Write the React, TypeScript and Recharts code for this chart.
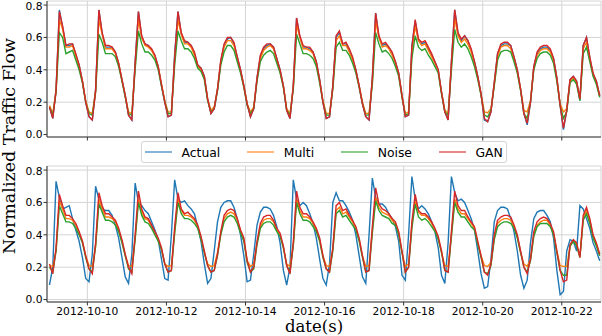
import React from 'react';
import { LineChart, Line, XAxis, YAxis, CartesianGrid } from 'recharts';

// hours since 2012-10-09 00:00, one sample every 2 h (01:00, 03:00, ...)
const HOURS = Array.from({ length: 168 }, (_, i) => 2 * i + 1);

const TICK_HOURS = [24, 72, 120, 168, 216, 264, 312];
const TICK_LABELS = ['2012-10-10', '2012-10-12', '2012-10-14', '2012-10-16', '2012-10-18', '2012-10-20', '2012-10-22'];
const Y_TICKS = [0, 0.2, 0.4, 0.6, 0.8];

// upper panel, one row per day (Oct 9 .. Oct 22)
const TOP_ACTUAL = [
  [0.17, 0.10, 0.28, 0.77, 0.66, 0.55, 0.55, 0.56, 0.49, 0.43, 0.33, 0.20],
  [0.11, 0.09, 0.28, 0.77, 0.62, 0.54, 0.54, 0.54, 0.51, 0.44, 0.34, 0.24],
  [0.12, 0.09, 0.45, 0.76, 0.60, 0.56, 0.55, 0.52, 0.49, 0.42, 0.30, 0.20],
  [0.11, 0.12, 0.50, 0.76, 0.62, 0.57, 0.57, 0.55, 0.50, 0.43, 0.41, 0.36],
  [0.22, 0.13, 0.16, 0.28, 0.45, 0.55, 0.59, 0.60, 0.56, 0.48, 0.40, 0.30],
  [0.19, 0.11, 0.16, 0.35, 0.48, 0.53, 0.55, 0.56, 0.54, 0.47, 0.40, 0.30],
  [0.15, 0.10, 0.30, 0.72, 0.60, 0.54, 0.54, 0.53, 0.51, 0.45, 0.34, 0.20],
  [0.10, 0.11, 0.30, 0.60, 0.63, 0.56, 0.56, 0.52, 0.47, 0.40, 0.30, 0.19],
  [0.11, 0.09, 0.35, 0.75, 0.60, 0.55, 0.56, 0.54, 0.50, 0.45, 0.38, 0.24],
  [0.11, 0.12, 0.55, 0.70, 0.58, 0.56, 0.57, 0.53, 0.49, 0.45, 0.40, 0.26],
  [0.14, 0.09, 0.45, 0.77, 0.62, 0.58, 0.61, 0.58, 0.52, 0.45, 0.36, 0.25],
  [0.09, 0.08, 0.14, 0.32, 0.50, 0.55, 0.56, 0.56, 0.55, 0.48, 0.40, 0.28],
  [0.13, 0.06, 0.20, 0.42, 0.50, 0.53, 0.54, 0.54, 0.52, 0.47, 0.35, 0.18],
  [0.03, 0.15, 0.34, 0.36, 0.33, 0.21, 0.55, 0.60, 0.47, 0.37, 0.33, 0.24],
].flat();

const TOP_MULTI = [
  [0.18, 0.13, 0.27, 0.71, 0.65, 0.54, 0.54, 0.55, 0.48, 0.42, 0.33, 0.21],
  [0.14, 0.13, 0.27, 0.71, 0.62, 0.53, 0.53, 0.53, 0.50, 0.44, 0.34, 0.24],
  [0.14, 0.13, 0.42, 0.71, 0.60, 0.55, 0.54, 0.52, 0.48, 0.42, 0.31, 0.21],
  [0.14, 0.14, 0.46, 0.71, 0.62, 0.56, 0.56, 0.54, 0.49, 0.42, 0.40, 0.35],
  [0.22, 0.15, 0.17, 0.28, 0.45, 0.54, 0.58, 0.58, 0.55, 0.47, 0.39, 0.30],
  [0.19, 0.14, 0.17, 0.34, 0.47, 0.52, 0.54, 0.55, 0.53, 0.46, 0.39, 0.30],
  [0.16, 0.13, 0.29, 0.68, 0.60, 0.53, 0.53, 0.52, 0.50, 0.44, 0.33, 0.21],
  [0.13, 0.13, 0.29, 0.58, 0.61, 0.55, 0.55, 0.51, 0.46, 0.39, 0.30, 0.20],
  [0.13, 0.13, 0.33, 0.70, 0.60, 0.54, 0.55, 0.53, 0.49, 0.44, 0.37, 0.24],
  [0.13, 0.14, 0.51, 0.67, 0.58, 0.55, 0.56, 0.52, 0.48, 0.44, 0.39, 0.26],
  [0.15, 0.13, 0.43, 0.72, 0.61, 0.57, 0.59, 0.56, 0.51, 0.44, 0.35, 0.25],
  [0.14, 0.135, 0.16, 0.31, 0.48, 0.54, 0.55, 0.55, 0.53, 0.47, 0.39, 0.28],
  [0.15, 0.14, 0.21, 0.41, 0.49, 0.52, 0.53, 0.53, 0.51, 0.46, 0.34, 0.19],
  [0.14, 0.16, 0.33, 0.35, 0.32, 0.22, 0.53, 0.57, 0.46, 0.37, 0.32, 0.24],
].flat();

const TOP_NOISE = [
  [0.17, 0.12, 0.26, 0.63, 0.60, 0.50, 0.51, 0.52, 0.46, 0.40, 0.32, 0.20],
  [0.13, 0.12, 0.26, 0.62, 0.57, 0.50, 0.50, 0.50, 0.48, 0.42, 0.33, 0.23],
  [0.13, 0.12, 0.40, 0.64, 0.56, 0.51, 0.51, 0.49, 0.46, 0.40, 0.30, 0.20],
  [0.13, 0.13, 0.43, 0.64, 0.58, 0.53, 0.53, 0.51, 0.47, 0.41, 0.39, 0.34],
  [0.21, 0.14, 0.16, 0.27, 0.43, 0.51, 0.55, 0.55, 0.52, 0.45, 0.38, 0.29],
  [0.18, 0.13, 0.16, 0.33, 0.45, 0.49, 0.51, 0.52, 0.50, 0.44, 0.38, 0.29],
  [0.15, 0.12, 0.28, 0.62, 0.56, 0.50, 0.50, 0.49, 0.47, 0.42, 0.32, 0.20],
  [0.12, 0.12, 0.28, 0.54, 0.57, 0.52, 0.52, 0.49, 0.44, 0.38, 0.29, 0.19],
  [0.12, 0.12, 0.31, 0.63, 0.56, 0.51, 0.52, 0.50, 0.47, 0.42, 0.36, 0.23],
  [0.12, 0.13, 0.47, 0.61, 0.54, 0.52, 0.53, 0.49, 0.46, 0.42, 0.38, 0.25],
  [0.14, 0.12, 0.40, 0.65, 0.57, 0.54, 0.56, 0.53, 0.48, 0.42, 0.34, 0.24],
  [0.12, 0.11, 0.15, 0.30, 0.46, 0.51, 0.52, 0.52, 0.51, 0.45, 0.38, 0.27],
  [0.13, 0.10, 0.20, 0.40, 0.47, 0.50, 0.51, 0.51, 0.49, 0.44, 0.33, 0.18],
  [0.10, 0.14, 0.32, 0.34, 0.31, 0.21, 0.50, 0.54, 0.45, 0.36, 0.31, 0.23],
].flat();

const TOP_GAN = [
  [0.17, 0.10, 0.27, 0.76, 0.67, 0.55, 0.56, 0.56, 0.50, 0.43, 0.33, 0.20],
  [0.11, 0.09, 0.27, 0.77, 0.63, 0.55, 0.55, 0.54, 0.51, 0.44, 0.34, 0.24],
  [0.12, 0.09, 0.44, 0.76, 0.61, 0.56, 0.55, 0.53, 0.49, 0.42, 0.31, 0.20],
  [0.11, 0.12, 0.48, 0.76, 0.63, 0.58, 0.57, 0.55, 0.51, 0.43, 0.41, 0.36],
  [0.22, 0.13, 0.16, 0.28, 0.46, 0.56, 0.60, 0.60, 0.57, 0.48, 0.40, 0.30],
  [0.19, 0.11, 0.16, 0.35, 0.49, 0.54, 0.56, 0.56, 0.54, 0.47, 0.40, 0.30],
  [0.15, 0.10, 0.30, 0.72, 0.61, 0.55, 0.54, 0.54, 0.51, 0.45, 0.34, 0.20],
  [0.10, 0.11, 0.30, 0.61, 0.64, 0.56, 0.57, 0.53, 0.48, 0.40, 0.30, 0.19],
  [0.11, 0.09, 0.35, 0.75, 0.61, 0.56, 0.57, 0.54, 0.51, 0.45, 0.38, 0.24],
  [0.11, 0.12, 0.54, 0.71, 0.59, 0.57, 0.58, 0.54, 0.50, 0.45, 0.40, 0.26],
  [0.14, 0.09, 0.45, 0.77, 0.63, 0.59, 0.61, 0.58, 0.53, 0.45, 0.36, 0.25],
  [0.10, 0.08, 0.14, 0.32, 0.50, 0.56, 0.57, 0.57, 0.55, 0.48, 0.40, 0.28],
  [0.13, 0.07, 0.20, 0.42, 0.51, 0.54, 0.55, 0.55, 0.53, 0.47, 0.35, 0.18],
  [0.04, 0.15, 0.34, 0.36, 0.33, 0.22, 0.55, 0.60, 0.48, 0.38, 0.33, 0.24],
].flat();

// lower panel
const BOTTOM_ACTUAL = [
  [0.09, 0.20, 0.73, 0.63, 0.56, 0.57, 0.58, 0.50, 0.43, 0.36, 0.26, 0.13],
  [0.11, 0.28, 0.70, 0.62, 0.56, 0.55, 0.55, 0.52, 0.46, 0.38, 0.26, 0.14],
  [0.10, 0.28, 0.72, 0.60, 0.58, 0.55, 0.53, 0.48, 0.43, 0.37, 0.25, 0.13],
  [0.12, 0.40, 0.74, 0.62, 0.60, 0.61, 0.58, 0.56, 0.53, 0.45, 0.36, 0.22],
  [0.10, 0.13, 0.30, 0.48, 0.57, 0.60, 0.61, 0.61, 0.57, 0.50, 0.40, 0.27],
  [0.11, 0.12, 0.28, 0.46, 0.54, 0.57, 0.57, 0.56, 0.52, 0.45, 0.35, 0.18],
  [0.09, 0.20, 0.74, 0.62, 0.58, 0.60, 0.58, 0.53, 0.47, 0.38, 0.25, 0.13],
  [0.09, 0.22, 0.60, 0.66, 0.61, 0.61, 0.58, 0.54, 0.49, 0.40, 0.27, 0.14],
  [0.10, 0.40, 0.75, 0.63, 0.59, 0.59, 0.57, 0.53, 0.50, 0.45, 0.36, 0.15],
  [0.12, 0.40, 0.76, 0.62, 0.56, 0.58, 0.56, 0.53, 0.48, 0.42, 0.32, 0.15],
  [0.10, 0.35, 0.76, 0.66, 0.61, 0.62, 0.60, 0.55, 0.50, 0.43, 0.30, 0.16],
  [0.07, 0.08, 0.25, 0.48, 0.55, 0.57, 0.57, 0.56, 0.50, 0.42, 0.30, 0.15],
  [0.07, 0.12, 0.35, 0.50, 0.54, 0.55, 0.55, 0.52, 0.48, 0.38, 0.18, 0.03],
  [0.05, 0.30, 0.37, 0.36, 0.30, 0.58, 0.56, 0.50, 0.44, 0.35, 0.30, 0.24],
].flat();

const BOTTOM_MULTI = [
  [0.21, 0.205, 0.30, 0.61, 0.56, 0.50, 0.50, 0.49, 0.46, 0.41, 0.36, 0.27],
  [0.21, 0.205, 0.33, 0.62, 0.56, 0.51, 0.51, 0.50, 0.48, 0.43, 0.36, 0.27],
  [0.21, 0.205, 0.38, 0.62, 0.54, 0.50, 0.49, 0.45, 0.41, 0.37, 0.31, 0.22],
  [0.205, 0.21, 0.42, 0.62, 0.55, 0.52, 0.52, 0.51, 0.49, 0.45, 0.38, 0.29],
  [0.22, 0.205, 0.21, 0.29, 0.41, 0.50, 0.53, 0.54, 0.53, 0.49, 0.42, 0.37],
  [0.24, 0.205, 0.22, 0.35, 0.45, 0.49, 0.50, 0.50, 0.48, 0.43, 0.40, 0.32],
  [0.22, 0.205, 0.34, 0.62, 0.55, 0.51, 0.51, 0.50, 0.47, 0.43, 0.37, 0.27],
  [0.21, 0.205, 0.31, 0.55, 0.57, 0.53, 0.54, 0.51, 0.48, 0.44, 0.37, 0.27],
  [0.205, 0.21, 0.43, 0.63, 0.57, 0.54, 0.53, 0.52, 0.49, 0.47, 0.41, 0.29],
  [0.205, 0.22, 0.46, 0.61, 0.54, 0.52, 0.52, 0.50, 0.47, 0.43, 0.38, 0.29],
  [0.21, 0.205, 0.40, 0.62, 0.56, 0.53, 0.53, 0.50, 0.47, 0.44, 0.35, 0.27],
  [0.21, 0.205, 0.23, 0.38, 0.47, 0.49, 0.50, 0.50, 0.49, 0.45, 0.39, 0.29],
  [0.22, 0.205, 0.25, 0.40, 0.46, 0.48, 0.49, 0.49, 0.46, 0.41, 0.30, 0.21],
  [0.205, 0.205, 0.33, 0.36, 0.34, 0.27, 0.50, 0.55, 0.49, 0.39, 0.34, 0.28],
].flat();

const BOTTOM_NOISE = [
  [0.20, 0.17, 0.30, 0.58, 0.53, 0.48, 0.48, 0.47, 0.44, 0.40, 0.35, 0.26],
  [0.19, 0.17, 0.33, 0.59, 0.54, 0.49, 0.49, 0.48, 0.46, 0.42, 0.35, 0.27],
  [0.19, 0.17, 0.37, 0.60, 0.52, 0.48, 0.47, 0.44, 0.40, 0.36, 0.31, 0.22],
  [0.17, 0.18, 0.41, 0.60, 0.53, 0.50, 0.50, 0.49, 0.47, 0.44, 0.37, 0.29],
  [0.21, 0.17, 0.18, 0.27, 0.40, 0.48, 0.51, 0.52, 0.51, 0.47, 0.41, 0.36],
  [0.23, 0.17, 0.19, 0.34, 0.44, 0.47, 0.48, 0.48, 0.46, 0.42, 0.39, 0.32],
  [0.21, 0.17, 0.33, 0.60, 0.53, 0.49, 0.49, 0.48, 0.45, 0.42, 0.36, 0.26],
  [0.19, 0.17, 0.30, 0.53, 0.55, 0.51, 0.52, 0.49, 0.46, 0.43, 0.36, 0.26],
  [0.17, 0.18, 0.41, 0.61, 0.55, 0.52, 0.51, 0.50, 0.47, 0.46, 0.40, 0.29],
  [0.17, 0.20, 0.44, 0.59, 0.51, 0.49, 0.50, 0.48, 0.45, 0.42, 0.37, 0.29],
  [0.18, 0.17, 0.39, 0.60, 0.54, 0.51, 0.51, 0.48, 0.45, 0.43, 0.34, 0.26],
  [0.17, 0.16, 0.21, 0.37, 0.45, 0.47, 0.48, 0.48, 0.47, 0.44, 0.38, 0.29],
  [0.20, 0.17, 0.24, 0.39, 0.45, 0.47, 0.47, 0.47, 0.45, 0.40, 0.29, 0.18],
  [0.15, 0.15, 0.33, 0.36, 0.33, 0.26, 0.49, 0.53, 0.47, 0.38, 0.33, 0.27],
].flat();

const BOTTOM_GAN = [
  [0.22, 0.16, 0.32, 0.65, 0.58, 0.52, 0.52, 0.50, 0.47, 0.42, 0.36, 0.27],
  [0.19, 0.16, 0.35, 0.66, 0.58, 0.53, 0.53, 0.51, 0.49, 0.44, 0.37, 0.28],
  [0.20, 0.16, 0.40, 0.67, 0.56, 0.51, 0.50, 0.46, 0.42, 0.38, 0.32, 0.22],
  [0.17, 0.18, 0.45, 0.66, 0.56, 0.53, 0.54, 0.52, 0.50, 0.46, 0.39, 0.30],
  [0.21, 0.17, 0.18, 0.28, 0.42, 0.52, 0.55, 0.56, 0.55, 0.50, 0.43, 0.38],
  [0.24, 0.17, 0.20, 0.36, 0.47, 0.51, 0.52, 0.52, 0.49, 0.44, 0.41, 0.33],
  [0.21, 0.16, 0.35, 0.67, 0.57, 0.53, 0.53, 0.51, 0.48, 0.44, 0.38, 0.27],
  [0.19, 0.17, 0.32, 0.58, 0.60, 0.55, 0.56, 0.52, 0.49, 0.45, 0.38, 0.27],
  [0.17, 0.18, 0.45, 0.69, 0.59, 0.56, 0.55, 0.53, 0.50, 0.48, 0.42, 0.30],
  [0.17, 0.20, 0.48, 0.65, 0.55, 0.53, 0.53, 0.51, 0.48, 0.44, 0.39, 0.30],
  [0.18, 0.17, 0.42, 0.67, 0.58, 0.55, 0.55, 0.51, 0.48, 0.45, 0.36, 0.27],
  [0.17, 0.15, 0.22, 0.40, 0.49, 0.51, 0.52, 0.52, 0.51, 0.46, 0.40, 0.30],
  [0.20, 0.16, 0.25, 0.42, 0.48, 0.50, 0.51, 0.50, 0.47, 0.42, 0.30, 0.18],
  [0.11, 0.12, 0.34, 0.37, 0.35, 0.26, 0.52, 0.57, 0.50, 0.40, 0.35, 0.28],
].flat();

const SERIES = [
  { key: 'actual', name: 'Actual', color: '#1f77b4' },
  { key: 'multi', name: 'Multi', color: '#ff7f0e' },
  { key: 'noise', name: 'Noise', color: '#2ca02c' },
  { key: 'gan', name: 'GAN', color: '#d62728' },
];

const topData = HOURS.map((h, i) => ({
  h,
  actual: TOP_ACTUAL[i],
  multi: TOP_MULTI[i],
  noise: TOP_NOISE[i],
  gan: TOP_GAN[i],
}));

const bottomData = HOURS.map((h, i) => ({
  h,
  actual: BOTTOM_ACTUAL[i],
  multi: BOTTOM_MULTI[i],
  noise: BOTTOM_NOISE[i],
  gan: BOTTOM_GAN[i],
}));

const TICK_FONT = { fontFamily: 'DejaVu Sans', fontSize: 10.7, fill: '#000' };
const AXIS_COLOR = '#333';

function Panel({ data, height, xHeight, labels }: { data: any[]; height: number; xHeight: number; labels: boolean }) {
  return (
    <LineChart width={602} height={height} data={data} margin={{ top: 1, right: 1, bottom: 0, left: 0 }}>
      <CartesianGrid stroke="#d4d4d4" strokeWidth={1} />
      <XAxis
        dataKey="h"
        type="number"
        domain={[-0.5, 335.8]}
        allowDataOverflow
        ticks={TICK_HOURS}
        tickFormatter={(v) => (labels ? TICK_LABELS[TICK_HOURS.indexOf(v)] : '')}
        tick={TICK_FONT}
        tickSize={3.5}
        tickMargin={1.5}
        height={xHeight}
        stroke={AXIS_COLOR}
        tickLine={{ stroke: AXIS_COLOR }}
      />
      <XAxis xAxisId="frameTop" orientation="top" height={0} tick={false} tickLine={false} stroke={AXIS_COLOR} />
      <YAxis
        domain={[-0.015, 0.825]}
        allowDataOverflow
        ticks={Y_TICKS}
        tickFormatter={(v) => v.toFixed(1)}
        tick={TICK_FONT}
        tickSize={3.5}
        tickMargin={1}
        width={47}
        stroke={AXIS_COLOR}
        tickLine={{ stroke: AXIS_COLOR }}
      />
      <YAxis yAxisId="frameRight" orientation="right" width={0} tick={false} tickLine={false} stroke={AXIS_COLOR} />
      {SERIES.map((s) => (
        <Line
          key={s.key}
          dataKey={s.key}
          name={s.name}
          type="linear"
          stroke={s.color}
          strokeWidth={1.4}
          dot={false}
          isAnimationActive={false}
        />
      ))}
    </LineChart>
  );
}

export default function App() {
  return (
    <div style={{ position: 'absolute', left: 0, top: 0, width: 602, height: 336, background: '#fff' }}>
      <div style={{ position: 'absolute', left: 0, top: 0 }}>
        <Panel data={topData} height={141} xHeight={4} labels={false} />
      </div>
      <div style={{ position: 'absolute', left: 0, top: 165 }}>
        <Panel data={bottomData} height={171} xHeight={34} labels />
      </div>

      <div
        style={{
          position: 'absolute',
          left: 141,
          top: 141,
          width: 366,
          height: 22,
          boxSizing: 'border-box',
          border: '1px solid #d5d5d5',
          borderRadius: 3,
          background: '#fff',
          display: 'flex',
          alignItems: 'center',
          paddingLeft: 3,
          fontFamily: 'DejaVu Sans',
          fontSize: 12.4,
          color: '#000',
        }}
      >
        {SERIES.map((s) => (
          <div key={s.key} style={{ display: 'flex', alignItems: 'center', marginRight: 27 }}>
            <div style={{ width: 27, height: 2, background: s.color, opacity: 0.55, marginRight: 9.5 }} />
            <span>{s.name}</span>
          </div>
        ))}
      </div>

      <div
        style={{
          position: 'absolute',
          left: 9,
          top: 146,
          transform: 'translate(-50%, -50%) rotate(-90deg)',
          whiteSpace: 'nowrap',
          fontFamily: 'DejaVu Serif',
          fontSize: 17.5,
          color: '#000',
        }}
      >
        Normalized Traffic Flow
      </div>
      <div
        style={{
          position: 'absolute',
          left: 314,
          top: 326,
          transform: 'translate(-50%, -50%)',
          whiteSpace: 'nowrap',
          lineHeight: '11px',
          fontFamily: 'DejaVu Serif',
          fontSize: 16.5,
          color: '#000',
        }}
      >
        date(s)
      </div>
    </div>
  );
}
